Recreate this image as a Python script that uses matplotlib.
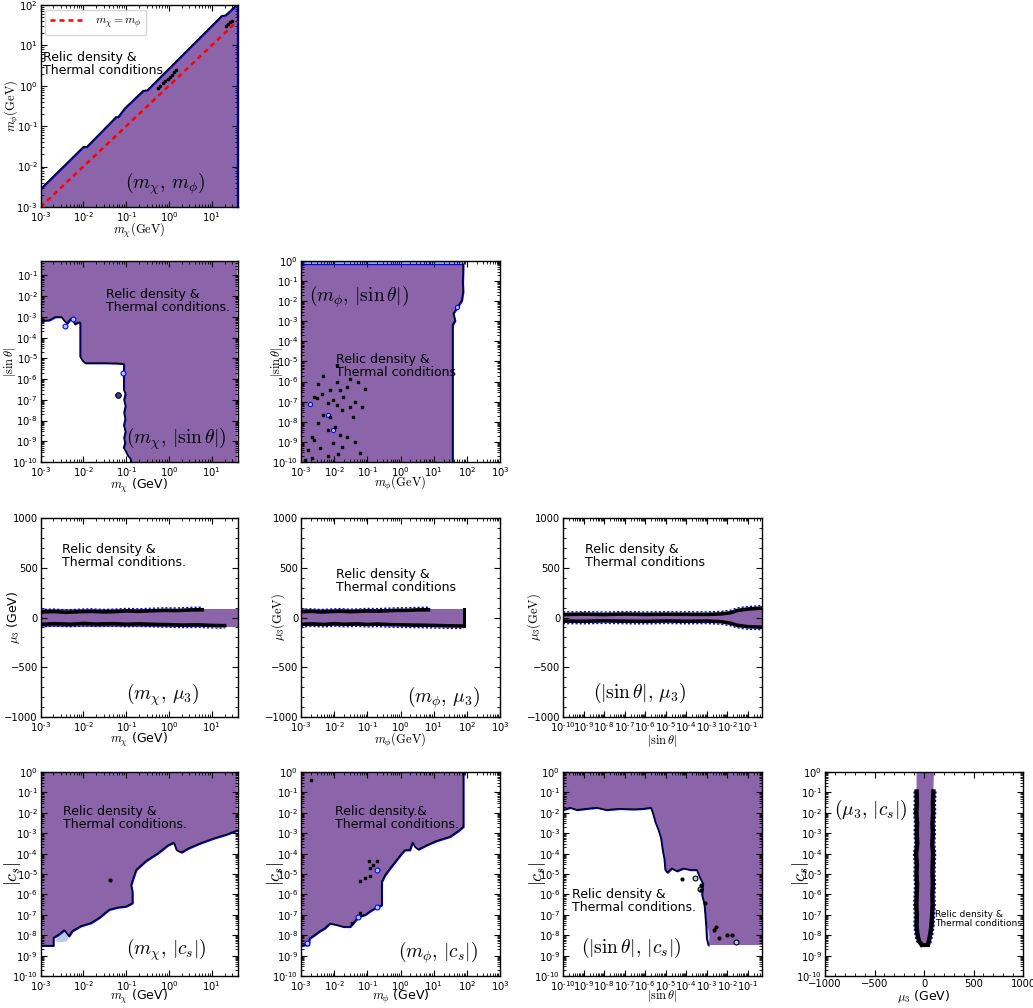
import numpy as np
import matplotlib.pyplot as plt
from matplotlib.ticker import LogLocator, FuncFormatter, MultipleLocator, NullFormatter
from matplotlib.transforms import offset_copy
from matplotlib.font_manager import FontProperties

W, H = 1033, 1008
purple = '#8c64aa'
light = '#b8cbe6'

# ---- (m_chi, m_phi) ----
a_mchi = [1e-3, 1.0e-2, 1.2e-2, 5.8e-2, 6.5e-2, 9.3e-2, 0.25, 0.31, 17, 21, 35, 40]
a_mphi = [2.8e-3, 3.1e-2, 3.1e-2, 0.17, 0.17, 0.28, 0.76, 0.78, 54, 56, 93, 100]
a_diag = [1e-3, 40]
a_dots_x = [0.55, 0.63, 0.72, 0.82, 0.93, 1.05, 1.2, 1.35, 1.5, 21, 24, 27, 29]
a_dots_y = [0.88, 1.0, 1.15, 1.3, 1.48, 1.68, 1.9, 2.15, 2.45, 30, 34, 38, 41]

# ---- (m_chi, |sin theta|) ----
b_mchi = [1e-3, 1.6e-3, 2.2e-3, 3.1e-3, 3.6e-3, 4.2e-3, 5e-3, 5.6e-3, 6.3e-3, 7.5e-3,
          8.4e-3, 8.4e-3, 9.5e-3, 1.1e-2, 3e-2, 6e-2, 8.8e-2, 8.8e-2, 9.6e-2, 8.9e-2,
          9.6e-2, 8.9e-2, 9.5e-2, 8.8e-2, 9.6e-2, 8.9e-2, 9.4e-2, 8.7e-2, 1.0e-1, 1.1e-1,
          1.25e-1, 1.3e-1]
b_sin = [6.5e-4, 7e-4, 1e-3, 1e-3, 6.5e-4, 5e-4, 8e-4, 8e-4, 4.5e-4, 5.5e-4,
         5.5e-4, 1.2e-5, 8e-6, 6e-6, 6e-6, 5.8e-6, 5.5e-6, 3e-7, 2e-7, 1e-7,
         5e-8, 2.5e-8, 1.2e-8, 6e-9, 3e-9, 1.5e-9, 8e-10, 5e-10, 3e-10, 2e-10,
         1.5e-10, 1e-10]
b_circ_x = [3.7e-3, 5.6e-3, 0.084]
b_circ_y = [3.7e-4, 8e-4, 1.9e-6]
b_dark_x = [0.065]
b_dark_y = [1.7e-7]

# ---- (m_phi, |sin theta|) ----
c_mphi = [37, 37, 37, 44, 39, 49, 70, 77, 75, 77, 77]
c_sin = [1e-10, 5e-4, 6.6e-4, 1.1e-3, 2.5e-3, 4.4e-3, 1.1e-2, 3e-2, 9e-2, 0.36, 0.7]
c_band = [0.7, 0.95]
c_dots_x = [2.5e-3, 1.6e-3, 2.5e-3, 3.3e-3, 4.7e-3, 7.4e-3, 6.6e-3, 4.7e-3, 3.3e-3, 2.1e-3,
            2.2e-3, 3e-3, 4.2e-3, 1.2e-2, 1.5e-2, 9.3e-3, 1.9e-2, 1.2e-2, 1.7e-2, 7.4e-3,
            1.05e-2, 1.5e-2, 6.6e-3, 9.3e-3, 3e-2, 2.4e-2, 1.2e-2, 3e-2, 5.4e-2, 8.5e-2,
            4.3e-2, 3.8e-2, 6.8e-2, 2.4e-2, 1.7e-2, 1.3e-2, 6e-2, 4.3e-2, 6.6e-3, 3.7e-3,
            1.3e-3]
c_dots_y = [1.3e-9, 4e-10, 1.8e-7, 8e-7, 1.8e-6, 3.8e-7, 8.3e-8, 2.2e-8, 8.3e-9, 1.8e-9,
            1.5e-10, 1.5e-7, 2.4e-7, 1e-6, 3.8e-7, 1.2e-7, 1.8e-7, 6.9e-8, 3.9e-8, 1.8e-8,
            5.8e-9, 2.2e-9, 3.9e-9, 8.5e-10, 5.6e-8, 5.6e-7, 6.7e-6, 1.4e-6, 1e-6, 4.1e-7,
            1e-7, 1.8e-8, 5.6e-8, 1.8e-9, 5.8e-10, 2.5e-10, 2.7e-10, 1e-9, 1.9e-10, 4.8e-10,
            1.3e-10]
c_circ_x = [1.9e-3, 6.6e-3, 9.3e-3, 49]
c_circ_y = [8e-8, 2.2e-8, 3.9e-9, 5e-3]

# ---- (m_chi, mu3) ----
d_band_x = [1e-3, 40]
d_band_lo, d_band_hi = -95, 90
d_up_x = [1e-3, 2e-3, 4e-3, 8e-3, 1.5e-2, 3e-2, 6e-2, 0.1, 0.2, 0.4, 0.8, 1.5, 3, 6]
d_up_y = [55, 60, 52, 58, 62, 56, 60, 66, 62, 68, 72, 70, 76, 78]
d_lo_x = [1e-3, 2e-3, 5e-3, 1e-2, 2e-2, 5e-2, 0.1, 0.2, 0.5, 1, 2, 5, 10, 20]
d_lo_y = [-70, -62, -68, -60, -66, -62, -68, -64, -70, -72, -76, -74, -80, -82]

# ---- (m_phi, mu3) ----
e_band_x = [1e-3, 80]
e_band_lo, e_band_hi = -90, 88
e_up_x = [1e-3, 2e-3, 4e-3, 8e-3, 1.5e-2, 3e-2, 6e-2, 0.1, 0.2, 0.4, 0.8, 1.5, 3, 7]
e_up_y = [58, 62, 55, 60, 64, 58, 62, 66, 64, 68, 72, 72, 76, 78]
e_lo_x = [1e-3, 2e-3, 5e-3, 1e-2, 2e-2, 5e-2, 0.1, 0.2, 0.5, 1, 2, 5, 10, 30, 80]
e_lo_y = [-70, -64, -70, -62, -68, -64, -70, -66, -72, -74, -76, -78, -80, -84, -86]
e_edge_y = [-90, 88]

# ---- (|sin theta|, mu3) ----
f_sin = [1e-10, 1e-9, 1e-8, 1e-7, 1e-6, 1e-5, 1e-4, 1e-3, 5e-3, 1.5e-2, 3e-2, 0.1, 0.5]
f_up = [30, 34, 30, 35, 31, 33, 32, 31, 36, 48, 70, 85, 95]
f_lo = [-36, -38, -34, -37, -39, -35, -38, -36, -42, -58, -78, -92, -98]

# ---- (m_chi, |c_s|) ----
g_mchi = [1e-3, 2e-3, 2e-3, 2.5e-3, 3.6e-3, 4.6e-3, 5.5e-3, 8.6e-3, 1.5e-2, 2.3e-2,
          4e-2, 6.3e-2, 0.1, 0.14, 0.14, 0.13, 0.17, 0.29, 0.55, 0.95,
          1.3, 1.5, 1.95, 2.8, 5.3, 11, 22, 40]
g_cs = [3.1e-9, 3.1e-9, 7.6e-9, 1e-8, 1.8e-8, 9e-9, 1.6e-8, 2.8e-8, 4e-8, 7e-8,
        1.8e-7, 2.3e-7, 2.6e-7, 3.8e-7, 1.4e-6, 2.9e-6, 1.6e-5, 4.4e-5, 1.05e-4, 2.6e-4,
        3.5e-4, 1.5e-4, 1.15e-4, 1.8e-4, 3.2e-4, 5.6e-4, 8.7e-4, 1.4e-3]
g_patch_x = [2.2e-3, 2.6e-3, 3.6e-3, 4.6e-3, 4.2e-3, 3e-3]
g_patch_y = [5e-9, 1e-8, 1.8e-8, 9e-9, 5e-9, 4.5e-9]
g_dot = ([4.3e-2], [5.1e-6])

# ---- (m_phi, |c_s|) ----
h_mphi = [1e-3, 1.7e-3, 1.8e-3, 2.4e-3, 3.7e-3, 5.2e-3, 7.4e-3, 1.2e-2, 1.9e-2, 3e-2,
          5.4e-2, 8.5e-2, 0.135, 0.21, 0.27, 0.27, 0.34, 0.48, 0.76, 1.07,
          1.35, 1.9, 2.3, 2.7, 3.4, 6.1, 12, 31, 55, 78, 78]
h_cs = [3.3e-9, 3.3e-9, 7e-9, 9.5e-9, 1.6e-8, 2.2e-8, 3.8e-8, 3.2e-8, 2.6e-8, 2.6e-8,
        8e-8, 1e-7, 1.7e-7, 2.5e-7, 3e-7, 4.2e-6, 8.9e-6, 1.9e-5, 4.9e-5, 1e-4,
        1.5e-4, 1.5e-4, 3.6e-4, 2.2e-4, 1.6e-4, 2.6e-4, 4.2e-4, 6.8e-4, 1.3e-3, 2.1e-3, 1]
h_dots_x = [0.12, 0.15, 0.19, 8.5e-2, 6e-2, 0.12, 0.11, 2e-3, 3.5e-2, 6e-2]
h_dots_y = [1.9e-5, 2.8e-5, 4.1e-5, 6.3e-6, 4.4e-6, 7.7e-6, 4.1e-5, 0.4, 4e-8, 1.2e-7]
h_circ_x = [0.2, 0.2, 5.4e-2, 1.5e-3]
h_circ_y = [1.6e-5, 2.5e-7, 8e-8, 4e-9]

# ---- (|sin theta|, |c_s|) ----
i_sin = [1e-10, 2.2e-10, 4.7e-10, 1.4e-9, 4.4e-9, 1.3e-8, 6e-8, 2.7e-7, 8.3e-7, 1.9e-6,
         2.4e-6, 3.1e-6, 4.5e-6, 5.9e-6, 7.3e-6, 8.5e-6, 9.5e-6, 1.2e-5, 2e-5, 3.5e-5,
         7.4e-5, 1.6e-4, 3.3e-4, 4.8e-4, 6.5e-4, 5.9e-4, 7.6e-4, 8.5e-4, 9.5e-4, 1e-3,
         1.2e-3, 0.5]
i_cs = [1.4e-2, 1.8e-2, 1.4e-2, 1.6e-2, 1.8e-2, 1.4e-2, 1.6e-2, 1.5e-2, 1.6e-2, 1.8e-2,
        9.4e-3, 3.6e-3, 1.4e-3, 5.6e-4, 1.26e-4, 5.9e-5, 1.6e-5, 1.2e-5, 1.9e-5, 1.4e-5,
        1.9e-5, 1.6e-5, 1.6e-5, 6.2e-6, 3.5e-6, 9.3e-7, 3.6e-7, 9.8e-8, 2.2e-8, 7e-9,
        3.3e-9, 3.3e-9]
i_dots_x = [6.2e-5, 5.2e-4, 5.5e-4, 8.5e-4, 2.3e-3, 4.1e-3, 9.7e-3, 1.7e-2, 3e-3]
i_dots_y = [5.5e-6, 3e-6, 1.6e-6, 3.6e-7, 1.8e-8, 7e-9, 1e-8, 1e-8, 2.4e-8]
i_circ_x = [2.8e-4, 4.8e-4, 2.7e-2]
i_circ_y = [6.5e-6, 1.8e-6, 4.8e-9]
i_patch_x = [1e-3, 1.1e-3, 1.3e-3, 1.4e-3, 1.2e-3]
i_patch_y = [2e-8, 5e-9, 3.5e-9, 8e-9, 2.2e-8]

# ---- (mu3, |c_s|) ----
j_top = [-75, 100]
j_cs = [0.11, 3e-2, 1e-2, 3e-3, 1e-3, 3e-4, 1e-4, 3e-5, 1e-5, 3e-6, 1e-6, 3e-7,
        1e-7, 3e-8, 1e-8, 5e-9, 3.5e-9]
j_left = [-75, -72, -78, -70, -74, -68, -80, -72, -76, -70, -74, -78, -72, -76, -65, -50, -25]
j_right = [95, 90, 92, 86, 90, 84, 92, 88, 86, 90, 85, 88, 82, 76, 62, 48, 40]

fig = plt.figure(figsize=(W / 100, H / 100), dpi=100)


def panel(left, top, width=198, height=202):
    return fig.add_axes([left / W, 1 - (top + height) / H, width / W, height / H])


def log_fmt(v, pos):
    # short hyphen in the exponent, like the old-style labels
    e = int(round(np.log10(v)))
    s = str(abs(e)) if e >= 0 else '\u2010' + str(-e)
    return r'$10^{%s}$' % s


def style(ax, xlog, ylog):
    for axis, islog in ((ax.xaxis, xlog), (ax.yaxis, ylog)):
        if islog:
            axis.set_major_locator(LogLocator(base=10, numticks=30))
            axis.set_minor_locator(LogLocator(base=10, subs=np.arange(2, 10), numticks=30))
            axis.set_major_formatter(FuncFormatter(log_fmt))
            axis.set_minor_formatter(NullFormatter())
        else:
            axis.set_major_locator(MultipleLocator(500))
            axis.set_minor_locator(MultipleLocator(100))
    ax.tick_params(which='both', direction='in', top=True, right=True, labelsize=7.2, pad=2)
    ax.tick_params(which='major', length=4, width=0.8)
    ax.tick_params(which='minor', length=2, width=0.6)
    for s in ax.spines.values():
        s.set_linewidth(1.0)


def outline(ax, x, y, dx=0.7, dy=-0.7, lw=1.0):
    shifted = offset_copy(ax.transData, fig=fig, x=dx, y=dy, units='dots')
    ax.plot(x, y, color='b', lw=lw, transform=shifted)
    ax.plot(x, y, color='k', lw=lw)


def noisy_edge(ax, x, y, dy):
    shifted = offset_copy(ax.transData, fig=fig, x=0, y=dy, units='dots')
    ax.plot(x, y, color='b', lw=1.0, ls=(0, (1.5, 1.5)), transform=shifted)
    ax.plot(x, y, color='k', lw=2.6)


def relic(ax, x, y, s='Relic density &\nThermal conditions.', size=9):
    ax.text(x, y, s, transform=ax.transAxes, fontsize=size, va='top', ha='left',
            linespacing=1.0)


def tag(ax, x, y, s, size=14):
    ax.text(x, y, s, transform=ax.transAxes, fontsize=size, ha='center', va='center',
            math_fontfamily='cm')


def xlab(ax, s, ypos, size=9):
    ax.set_xlabel(s, fontsize=size, math_fontfamily='cm')
    ax.xaxis.set_label_coords(0.5, ypos)


def ylab(ax, s, xpos, size=9):
    ax.set_ylabel(s, fontsize=size, math_fontfamily='cm')
    ax.yaxis.set_label_coords(xpos, 0.5)


# ---------------- row 1 ----------------
ax = panel(40.5, 5, 197, 202)
ax.set_xscale('log')
ax.set_yscale('log')
ax.fill_between(a_mchi, 1e-3, a_mphi, color=purple, lw=0)
outline(ax, a_mchi, a_mphi)
ax.plot([39, 39], [1e-3, 95], color='b', lw=1.0)
ax.scatter(a_dots_x, a_dots_y, s=2.5, color='k', zorder=3)
ax.plot(a_diag, a_diag, color='r', lw=1.8, ls=(0, (2, 1.6)), label=r'$m_\chi = m_\phi$')
ax.set_xlim(1e-3, 40)
ax.set_ylim(1e-3, 100)
style(ax, True, True)
ax.legend(loc='upper left', prop=FontProperties(size=8.5, math_fontfamily='cm'),
          handlelength=3, fancybox=True, borderaxespad=0.4)
relic(ax, 0.013, 0.77, 'Relic density &\nThermal conditions')
tag(ax, 0.63, 0.114, r'$(m_\chi,\,m_\phi)$')
xlab(ax, r'$m_\chi(\mathrm{GeV})$', -0.07)
ylab(ax, r'$m_\phi(\mathrm{GeV})$', -0.096)

# ---------------- row 2 ----------------
ax = panel(40.5, 261, 197, 201)
ax.set_xscale('log')
ax.set_yscale('log')
ax.set_xlim(1e-3, 40)
ax.set_ylim(1e-10, 0.5)
xmin, xmax = ax.get_xlim()
ymin, ymax = ax.get_ylim()
ax.fill(b_mchi + [xmax, xmax, xmin], b_sin + [ymin, ymax, ymax], color=purple, lw=0)
outline(ax, b_mchi, b_sin)
ax.plot(b_circ_x, b_circ_y, 'o', ms=3.5, mfc=light, mec='b', mew=0.8)
ax.plot(b_dark_x, b_dark_y, 'o', ms=4, mfc='#3040a0', mec='k', mew=0.8)
style(ax, True, True)
relic(ax, 0.333, 0.867)
tag(ax, 0.69, 0.117, r'$(m_\chi,\,|\sin\theta|)$')
xlab(ax, r'$m_\chi$ (GeV)', -0.075)
ylab(ax, r'$|\sin\theta|$', -0.112)

ax = panel(301, 261, 199, 201)
ax.set_xscale('log')
ax.set_yscale('log')
ax.set_xlim(1e-3, 1e3)
ax.set_ylim(1e-10, 1)
xmin, xmax = ax.get_xlim()
ax.fill([xmin] + c_mphi + [xmin], [c_sin[0]] + c_sin + [c_sin[-1]], color=purple, lw=0)
ax.fill_between([xmin, c_mphi[-1]], c_band[0], c_band[1], color=light, lw=0)
ax.plot([xmin, c_mphi[-1]], [c_band[0], c_band[0]], color='b', lw=1.0)
ax.plot([xmin, c_mphi[-1]], [c_band[1], c_band[1]], color='b', lw=1.0)
outline(ax, c_mphi, c_sin)
ax.scatter(c_dots_x, c_dots_y, s=3, color='k', marker='s', zorder=3)
ax.plot(c_circ_x, c_circ_y, 'o', ms=3, mfc=light, mec='b', mew=0.8)
style(ax, True, True)
relic(ax, 0.176, 0.542, 'Relic density &\nThermal conditions')
tag(ax, 0.29, 0.823, r'$(m_\phi,\,|\sin\theta|)$')
xlab(ax, r'$m_\phi(\mathrm{GeV})$', -0.06)
ylab(ax, r'$|\sin\theta|$', -0.078)

# ---------------- row 3 ----------------
ax = panel(40.5, 518, 197, 199)
ax.set_xscale('log')
ax.fill_between(d_band_x, d_band_lo, d_band_hi, color=purple, lw=0)
noisy_edge(ax, d_up_x, d_up_y, 2.5)
noisy_edge(ax, d_lo_x, d_lo_y, -2.5)
ax.set_xlim(1e-3, 40)
ax.set_ylim(-1000, 1000)
style(ax, True, False)
relic(ax, 0.107, 0.874)
tag(ax, 0.62, 0.11, r'$(m_\chi,\,\mu_3)$')
xlab(ax, r'$m_\chi$ (GeV)', -0.07)
ylab(ax, r'$\mu_3$ (GeV)', -0.096)

ax = panel(301, 518, 199, 199)
ax.set_xscale('log')
ax.fill_between(e_band_x, e_band_lo, e_band_hi, color=purple, lw=0)
noisy_edge(ax, e_up_x, e_up_y, 2.5)
noisy_edge(ax, e_lo_x, e_lo_y, -2.5)
ax.plot([e_band_x[1], e_band_x[1]], e_edge_y, color='k', lw=2.2)
ax.set_xlim(1e-3, 1e3)
ax.set_ylim(-1000, 1000)
style(ax, True, False)
relic(ax, 0.176, 0.749, 'Relic density &\nThermal conditions')
tag(ax, 0.715, 0.097, r'$(m_\phi,\,\mu_3)$')
xlab(ax, r'$m_\phi(\mathrm{GeV})$', -0.07)
ylab(ax, r'$\mu_3(\mathrm{GeV})$', -0.068)

ax = panel(563, 518, 199, 199)
ax.set_xscale('log')
ax.fill_between(f_sin, f_lo, f_up, color=purple, lw=0)
noisy_edge(ax, f_sin, f_up, 2.5)
noisy_edge(ax, f_sin, f_lo, -2.5)
ax.set_xlim(1e-10, 0.5)
ax.set_ylim(-1000, 1000)
style(ax, True, False)
relic(ax, 0.11, 0.874, 'Relic density &\nThermal conditions')
tag(ax, 0.387, 0.12, r'$(|\sin\theta|,\,\mu_3)$')
xlab(ax, r'$|\sin\theta|$', -0.08)
ylab(ax, r'$\mu_3(\mathrm{GeV})$', -0.103)

# ---------------- row 4 ----------------
ax = panel(40.5, 772, 197, 204)
ax.set_xscale('log')
ax.set_yscale('log')
ax.set_xlim(1e-3, 40)
ax.set_ylim(1e-10, 1)
xmin, xmax = ax.get_xlim()
ymin, ymax = ax.get_ylim()
ax.fill(g_mchi + [xmax, xmin], g_cs + [ymax, ymax], color=purple, lw=0)
ax.fill(g_patch_x, g_patch_y, color=light, lw=0)
outline(ax, g_mchi, g_cs)
ax.scatter(*g_dot, s=4, color='k', zorder=3)
style(ax, True, True)
relic(ax, 0.114, 0.838)
tag(ax, 0.64, 0.127, r'$(m_\chi,\,|c_s|)$')
xlab(ax, r'$m_\chi$ (GeV)', -0.06)
ylab(ax, r'$|c_s|$', -0.089, 13)

ax = panel(301, 772, 199, 204)
ax.set_xscale('log')
ax.set_yscale('log')
ax.set_xlim(1e-3, 1e3)
ax.set_ylim(1e-10, 1)
xmin, xmax = ax.get_xlim()
ax.fill(h_mphi + [xmin], h_cs + [h_cs[-1]], color=purple, lw=0)
outline(ax, h_mphi, h_cs)
ax.scatter(h_dots_x, h_dots_y, s=4, color='k', marker='s', zorder=3)
ax.plot(h_circ_x, h_circ_y, 'o', ms=3.5, mfc=light, mec='b', mew=0.8)
style(ax, True, True)
relic(ax, 0.171, 0.838, 'Relic density.&\nThermal conditions.')
tag(ax, 0.69, 0.113, r'$(m_\phi,\,|c_s|)$')
xlab(ax, r'$m_\phi$ (GeV)', -0.06)
ylab(ax, r'$|c_s|$', -0.075, 13)

ax = panel(563, 772, 199, 204)
ax.set_xscale('log')
ax.set_yscale('log')
ax.set_xlim(1e-10, 0.5)
ax.set_ylim(1e-10, 1)
xmin, xmax = ax.get_xlim()
ymin, ymax = ax.get_ylim()
ax.fill(i_sin + [xmax, xmin], i_cs + [ymax, ymax], color=purple, lw=0)
ax.fill(i_patch_x, i_patch_y, color=light, lw=0)
outline(ax, i_sin[:-1], i_cs[:-1])
ax.scatter(i_dots_x, i_dots_y, s=4, color='k', zorder=3)
ax.plot(i_circ_x, i_circ_y, 'o', ms=3.5, mfc=light, mec='k', mew=0.8)
style(ax, True, True)
relic(ax, 0.044, 0.433)
tag(ax, 0.34, 0.137, r'$(|\sin\theta|,\,|c_s|)$')
xlab(ax, r'$|\sin\theta|$', -0.058)
ylab(ax, r'$|c_s|$', -0.075, 13)

ax = panel(825, 772, 198, 204)
ax.set_yscale('log')
ax.set_xlim(-1000, 1000)
ax.set_ylim(1e-10, 1)
ymin, ymax = ax.get_ylim()
ax.fill([j_top[0]] + j_left + j_right[::-1] + [j_top[1]],
        [ymax] + j_cs + j_cs[::-1] + [ymax], color=purple, lw=0)
for xs, d in ((j_left, -2.5), (j_right, 2.5)):
    shifted = offset_copy(ax.transData, fig=fig, x=d, y=0, units='dots')
    ax.plot(xs, j_cs, color='b', lw=1.0, ls=(0, (1.5, 1.5)), transform=shifted)
    ax.plot(xs, j_cs, color='k', lw=3.2)
ax.plot([j_left[-1], j_right[-1]], [j_cs[-1], j_cs[-1]], color='k', lw=3.0)
style(ax, False, True)
relic(ax, 0.556, 0.324, 'Relic density &\nThermal conditions.', 6.5)
tag(ax, 0.232, 0.814, r'$(\mu_3,\,|c_s|)$')
xlab(ax, r'$\mu_3$ (GeV)', -0.06)
ylab(ax, r'$|c_s|$', -0.071, 13)

fig.savefig('out.png', dpi=100)
